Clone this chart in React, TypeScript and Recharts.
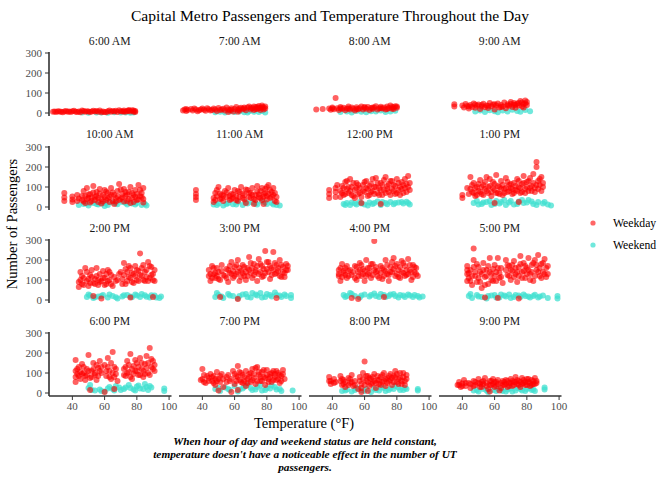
import React from "react";
import { ScatterChart, Scatter, XAxis, YAxis } from "recharts";

const hours = [
  "6:00 AM", "7:00 AM", "8:00 AM", "9:00 AM",
  "10:00 AM", "11:00 AM", "12:00 PM", "1:00 PM",
  "2:00 PM", "3:00 PM", "4:00 PM", "5:00 PM",
  "6:00 PM", "7:00 PM", "8:00 PM", "9:00 PM",
];

const xTicks = [40, 60, 80, 100];
const yTicks = [0, 100, 200, 300];

// [temperature °F, passengers]
const wd6am = [[28,6],[29,8],[30,5],[31,9],[32,7],[33,6],[34,4],[35,8],[36,10],[37,6],[38,7],[39,5],[40,9],[41,11],[42,6],[43,5],[44,7],[45,4],[46,12],[47,10],[48,6],[49,9],[50,8],[51,5],[52,7],[53,11],[54,7],[55,10],[56,6],[57,12],[58,4],[59,8],[60,5],[61,4],[62,9],[63,13],[64,6],[65,10],[66,8],[67,11],[68,5],[69,14],[70,9],[71,7],[72,12],[72,8],[73,6],[74,10],[75,15],[75,11],[76,8],[77,14],[78,6],[78,12],[79,10],[79,5]];
const we6am = [[46,2],[50,1],[55,3],[58,2],[62,1],[66,4],[70,2],[73,3],[76,1],[78,2]];

const wd7am = [[28,12],[29,18],[30,10],[30,20],[31,15],[33,20],[34,13],[35,22],[36,17],[37,9],[38,14],[39,18],[40,22],[41,16],[42,11],[43,24],[44,19],[45,13],[46,15],[47,23],[48,17],[49,10],[50,25],[51,15],[52,18],[53,21],[54,12],[55,28],[56,18],[56,5],[57,14],[58,24],[58,16],[59,8],[60,20],[61,30],[62,16],[62,6],[63,12],[63,22],[64,26],[65,19],[66,22],[66,28],[67,14],[68,27],[69,32],[70,18],[70,26],[71,24],[72,15],[72,32],[73,29],[73,20],[74,20],[74,30],[75,35],[75,25],[76,25],[76,15],[77,38],[77,30],[78,28],[78,18],[79,22],[79,32]];
const we7am = [[48,4],[51,6],[54,3],[57,8],[60,5],[63,7],[66,4],[68,2],[69,9],[72,6],[75,5],[77,10],[79,3]];

const wd8am = [[30,18],[34,20],[38,22],[39,16],[40,28],[40,22],[41,19],[42,75],[43,24],[44,15],[45,30],[45,24],[46,20],[47,26],[48,14],[49,22],[50,32],[50,22],[51,18],[52,27],[53,21],[54,12],[55,29],[55,20],[56,19],[57,24],[58,33],[59,17],[60,26],[60,30],[61,21],[62,30],[63,15],[64,25],[65,20],[65,28],[66,28],[67,34],[68,18],[69,24],[70,31],[70,24],[71,22],[72,27],[73,17],[74,32],[74,20],[75,25],[76,37],[77,21],[77,30],[78,29],[78,20],[79,34],[80,26],[80,32]];
const we8am = [[45,5],[49,8],[52,3],[55,10],[58,6],[61,4],[64,9],[67,7],[70,12],[73,5],[76,8],[79,11]];

const wd9am = [[35,32],[35,44],[40,38],[41,28],[42,45],[43,35],[44,22],[44,32],[45,40],[46,30],[47,48],[48,26],[48,42],[49,36],[50,42],[51,20],[52,33],[52,40],[53,46],[54,29],[55,38],[56,25],[56,36],[57,50],[58,34],[59,42],[60,18],[60,44],[61,37],[62,47],[63,28],[64,40],[64,30],[65,33],[66,52],[67,24],[68,44],[68,38],[69,36],[70,55],[70,45],[71,30],[72,41],[72,50],[73,26],[73,40],[74,48],[75,38],[75,50],[76,60],[77,33],[77,52],[78,45],[78,28],[79,62],[79,48],[80,40],[80,55]];
const we9am = [[48,8],[51,12],[54,5],[57,14],[60,9],[62,4],[65,13],[68,7],[71,16],[74,10],[76,6],[79,15],[82,9]];

const wd10am = [[35,30],[35,48],[35,70],[40,25],[40,38],[40,52],[43,30],[43,60],[44,42],[46,35],[46,55],[47,80],[47,28],[48,55],[48,20],[49,95],[49,40],[50,45],[50,62],[51,65],[51,22],[52,30],[52,48],[53,105],[53,72],[54,50],[54,35],[55,75],[55,55],[56,25],[56,45],[57,90],[57,68],[58,40],[58,18],[59,60],[59,28],[60,85],[60,50],[61,35],[61,78],[62,70],[62,42],[63,50],[63,25],[64,95],[64,60],[65,30],[65,72],[66,60],[66,15],[67,45],[67,28],[68,80],[68,52],[69,115],[69,35],[70,40],[70,88],[71,65],[71,48],[72,90],[72,28],[73,55],[73,75],[74,30],[74,62],[75,75],[75,40],[76,100],[76,20],[77,45],[77,70],[78,60],[78,25],[79,85],[79,50],[80,35],[80,65],[81,110],[81,38],[82,55],[82,85],[83,70],[83,50],[84,40],[84,95],[84,22]];
const we10am = [[44,10],[47,15],[49,18],[50,8],[53,20],[55,15],[56,12],[59,18],[60,5],[61,20],[62,10],[65,22],[67,18],[68,14],[71,25],[73,20],[74,12],[77,18],[79,12],[80,20],[83,10],[85,15],[86,8]];

const wd11am = [[36,35],[36,50],[36,65],[36,85],[47,45],[47,25],[48,70],[48,35],[49,55],[49,85],[50,100],[51,40],[51,68],[52,60],[52,42],[53,30],[53,58],[54,80],[55,50],[55,72],[56,95],[57,35],[57,55],[58,65],[58,40],[59,45],[59,62],[60,85],[61,55],[61,35],[62,30],[62,80],[63,75],[63,50],[64,100],[65,45],[65,68],[66,60],[66,38],[67,20],[67,88],[68,85],[69,50],[69,70],[70,70],[70,45],[71,95],[71,60],[72,40],[72,15],[73,60],[73,35],[74,105],[74,78],[75,50],[75,62],[76,80],[76,45],[77,35],[77,95],[78,65],[78,15],[78,52],[79,90],[79,70],[80,55],[80,38],[80,100],[81,110],[81,65],[82,45],[82,85],[83,75],[83,50],[84,60],[84,95],[85,30],[85,70],[86,50],[86,25]];
const we11am = [[47,12],[49,10],[50,18],[53,8],[55,15],[56,20],[59,14],[61,12],[62,25],[65,10],[67,25],[68,18],[71,22],[73,18],[74,12],[77,28],[79,22],[80,15],[83,20],[84,12],[86,10],[88,8]];

const wd12pm = [[38,45],[38,65],[38,85],[42,50],[42,75],[42,95],[43,110],[45,80],[45,50],[46,105],[46,70],[47,60],[47,95],[48,125],[48,65],[49,90],[49,130],[50,70],[50,100],[51,140],[51,80],[52,100],[52,60],[53,55],[53,120],[54,85],[54,45],[55,120],[55,95],[56,65],[56,110],[57,95],[57,70],[58,50],[58,20],[59,110],[59,80],[60,75],[60,125],[61,130],[61,95],[62,90],[62,55],[63,60],[63,105],[64,115],[64,75],[65,80],[65,140],[66,100],[66,65],[67,145],[67,100],[68,70],[68,120],[69,95],[69,60],[70,120],[70,85],[70,15],[71,60],[71,110],[72,85],[72,135],[73,150],[73,70],[74,105],[74,90],[75,75],[75,115],[76,130],[76,60],[77,90],[77,130],[78,110],[78,80],[79,65],[79,105],[80,140],[80,70],[81,85],[81,120],[82,100],[82,60],[83,125],[83,90],[84,70],[84,110],[85,95],[85,140],[86,115],[86,75],[87,155],[87,100],[88,85],[88,120]];
const we12pm = [[47,15],[48,10],[49,20],[51,10],[52,22],[54,18],[55,12],[57,25],[58,18],[60,12],[62,8],[63,22],[65,15],[66,20],[68,28],[70,10],[71,25],[73,20],[74,14],[76,25],[78,14],[79,20],[81,22],[83,25],[84,18],[86,26],[87,20],[88,12]];

const wd1pm = [[40,45],[40,60],[43,95],[44,65],[45,150],[45,90],[46,75],[46,110],[47,120],[47,70],[48,55],[48,95],[49,100],[49,60],[50,80],[50,115],[51,135],[51,75],[52,65],[52,100],[53,110],[53,60],[54,90],[54,125],[55,150],[55,80],[56,70],[56,100],[57,105],[57,140],[58,55],[58,75],[59,125],[59,95],[60,85],[60,115],[60,20],[61,160],[61,70],[62,70],[62,105],[63,100],[63,65],[64,130],[64,90],[65,60],[65,110],[66,90],[66,70],[67,145],[67,95],[68,75],[68,125],[69,110],[69,80],[70,95],[70,115],[71,65],[71,90],[72,120],[72,70],[73,85],[73,105],[74,140],[74,80],[75,100],[75,130],[75,25],[76,70],[76,95],[77,115],[77,75],[78,155],[78,120],[79,90],[79,70],[80,125],[80,100],[81,80],[81,130],[82,145],[82,95],[83,105],[83,80],[84,165],[84,120],[85,95],[85,75],[86,200],[86,225],[86,110],[87,130],[87,90],[88,110],[88,140],[89,150],[89,80],[90,100],[90,120]];
const we1pm = [[47,20],[49,30],[50,12],[52,15],[53,22],[55,25],[57,30],[58,10],[60,15],[61,30],[63,18],[64,25],[66,35],[67,10],[69,22],[70,30],[72,12],[74,15],[75,28],[77,35],[78,20],[80,22],[81,35],[83,28],[84,15],[86,10],[87,25],[90,18],[91,25],[93,12],[95,8]];

const wd2pm = [[44,65],[44,90],[45,140],[45,100],[46,80],[46,120],[47,110],[47,75],[48,160],[49,95],[49,140],[50,70],[50,105],[51,125],[51,85],[52,150],[52,115],[53,85],[53,20],[54,105],[54,80],[55,160],[55,120],[56,75],[56,100],[57,130],[57,90],[58,95],[58,8],[59,145],[59,110],[60,110],[60,75],[61,80],[61,130],[62,150],[62,95],[63,100],[63,140],[64,125],[64,80],[65,70],[66,115],[67,95],[68,100],[69,130],[70,140],[71,105],[71,80],[72,185],[72,125],[73,80],[73,155],[74,140],[74,95],[75,115],[75,170],[76,160],[76,110],[76,12],[77,90],[77,135],[78,130],[78,85],[79,170],[79,120],[80,100],[80,150],[81,145],[81,95],[82,233],[82,125],[83,120],[83,160],[84,175],[84,100],[85,95],[85,140],[86,150],[86,115],[87,190],[87,95],[88,110],[88,170],[89,165],[89,125],[90,130],[90,100],[90,15],[91,95],[91,150]];
const we2pm = [[49,15],[50,28],[51,22],[53,10],[54,14],[56,18],[58,20],[59,25],[62,12],[63,28],[65,20],[67,14],[68,8],[71,18],[72,24],[74,25],[76,18],[77,14],[79,28],[80,22],[82,15],[83,30],[85,24],[86,16],[88,12],[89,24],[91,22],[92,12],[94,10],[95,18]];

const wd3pm = [[44,120],[44,150],[45,95],[45,130],[46,170],[46,110],[47,130],[47,160],[48,110],[48,135],[49,160],[49,120],[50,140],[50,105],[51,100],[51,15],[52,175],[52,145],[53,125],[54,120],[55,155],[55,110],[56,90],[56,150],[57,135],[57,170],[58,190],[58,130],[59,110],[59,145],[60,165],[60,120],[61,130],[61,175],[62,200],[62,140],[62,5],[63,95],[63,160],[64,145],[64,115],[65,175],[65,135],[66,120],[66,165],[67,100],[67,140],[68,160],[68,120],[69,215],[69,150],[70,135],[70,185],[71,110],[71,160],[72,180],[72,125],[73,150],[73,140],[74,95],[74,170],[75,205],[75,130],[76,140],[76,180],[77,170],[77,115],[78,120],[78,155],[79,245],[79,135],[80,155],[80,190],[81,190],[81,140],[82,105],[82,170],[83,160],[83,125],[84,240],[84,150],[85,130],[85,185],[86,175],[86,135],[86,10],[87,145],[87,160],[88,200],[88,120],[89,115],[89,175],[90,165],[90,140],[91,135],[91,115],[92,180],[92,150],[93,150],[93,170]];
const we3pm = [[48,15],[49,35],[50,25],[52,18],[53,10],[56,30],[57,22],[59,20],[62,8],[63,20],[65,28],[67,30],[68,15],[70,12],[71,35],[73,28],[74,22],[76,35],[77,12],[79,15],[80,30],[82,25],[83,18],[85,38],[86,25],[88,22],[89,15],[91,28],[92,20],[95,10],[95,25]];

const wd4pm = [[44,120],[44,150],[44,130],[45,95],[45,160],[46,180],[46,115],[47,135],[47,145],[48,160],[48,125],[49,110],[49,170],[50,145],[50,120],[51,150],[52,125],[52,10],[53,140],[54,170],[54,110],[55,100],[55,165],[56,140],[56,120],[56,5],[57,185],[57,150],[58,120],[58,175],[59,155],[59,130],[60,95],[60,145],[61,200],[61,120],[62,130],[62,160],[63,160],[63,135],[64,110],[64,180],[65,180],[65,125],[66,295],[66,150],[67,140],[67,165],[68,120],[68,145],[69,110],[70,170],[70,135],[71,105],[71,160],[72,150],[72,120],[72,15],[73,200],[73,145],[74,130],[74,175],[75,95],[75,125],[76,165],[76,140],[77,140],[77,190],[78,210],[78,155],[79,120],[79,170],[80,180],[80,130],[81,150],[81,115],[82,110],[82,165],[83,195],[83,140],[84,135],[84,185],[85,170],[85,120],[86,125],[86,150],[87,205],[87,130],[88,150],[88,175],[89,100],[89,140],[90,175],[90,115],[91,140],[91,165],[92,160],[92,130],[93,120]];
const we4pm = [[47,25],[48,15],[49,20],[51,35],[52,30],[54,20],[57,12],[58,22],[60,28],[63,18],[64,25],[66,32],[67,20],[69,15],[70,30],[72,25],[73,15],[75,20],[76,28],[78,30],[79,20],[81,12],[82,25],[84,22],[85,15],[87,28],[88,22],[90,15],[91,25],[93,20],[94,12],[96,18]];

const wd5pm = [[43,95],[43,130],[43,170],[43,150],[44,110],[44,135],[45,150],[45,95],[46,75],[46,120],[47,200],[47,258],[47,165],[48,120],[48,140],[49,90],[49,180],[50,165],[50,110],[51,140],[51,90],[52,60],[52,130],[53,185],[53,150],[54,115],[54,75],[54,12],[55,150],[55,120],[56,80],[56,170],[57,210],[57,140],[58,130],[58,100],[59,95],[59,155],[60,175],[60,120],[61,140],[61,95],[62,210],[62,160],[62,10],[63,110],[63,135],[64,160],[64,115],[65,85],[67,200],[67,150],[68,125],[68,175],[69,170],[69,120],[70,100],[70,150],[71,145],[71,175],[72,195],[72,115],[73,130],[73,160],[74,90],[74,140],[75,165],[75,120],[75,8],[76,220],[76,180],[77,140],[77,110],[78,185],[78,145],[79,110],[79,170],[80,160],[80,130],[81,210],[81,150],[82,130],[82,100],[83,175],[83,140],[84,95],[84,185],[85,200],[85,120],[86,150],[86,175],[87,225],[87,140],[88,120],[88,160],[89,180],[89,110],[90,140],[90,185],[91,205],[91,130],[92,160],[92,115],[93,130],[93,170]];
const we5pm = [[44,20],[45,30],[46,10],[49,25],[50,18],[52,15],[55,8],[56,20],[58,22],[60,25],[61,12],[63,12],[64,28],[66,22],[67,18],[69,28],[70,10],[72,15],[73,25],[75,22],[76,15],[78,28],[79,20],[81,18],[82,12],[84,20],[85,26],[87,12],[88,18],[90,22],[93,10],[99,20],[99,8]];

const wd6pm = [[42,55],[42,80],[42,110],[42,165],[43,95],[43,120],[44,130],[44,85],[45,70],[45,105],[46,145],[46,95],[47,100],[47,130],[48,85],[48,65],[49,120],[49,90],[50,190],[50,110],[51,75],[51,15],[52,110],[52,80],[53,150],[53,120],[54,90],[54,100],[55,65],[55,140],[56,125],[56,85],[57,160],[57,110],[58,100],[58,130],[60,140],[60,5],[61,85],[61,110],[62,175],[62,130],[63,110],[63,80],[64,70],[64,150],[65,205],[65,100],[66,130],[66,80],[66,20],[67,95],[67,120],[68,60],[72,120],[72,90],[73,85],[73,130],[74,160],[74,100],[75,105],[75,140],[76,195],[76,80],[77,70],[77,120],[78,135],[78,95],[79,110],[79,165],[80,150],[80,110],[81,90],[81,130],[82,175],[82,90],[83,120],[83,150],[84,80],[84,110],[85,145],[85,95],[86,185],[86,125],[87,100],[87,150],[88,225],[88,90],[89,130],[89,170],[90,160],[90,120],[91,110],[91,140]];
const we6pm = [[50,25],[51,40],[52,15],[54,12],[57,18],[58,10],[60,8],[62,22],[63,30],[65,20],[66,12],[67,35],[69,28],[70,15],[72,20],[73,28],[75,40],[76,25],[78,18],[79,12],[80,32],[81,38],[82,22],[84,20],[85,45],[86,30],[87,15],[88,35],[89,28],[97,10],[97,22]];

const wd7pm = [[39,65],[40,120],[40,70],[41,90],[41,55],[42,50],[43,85],[44,75],[44,60],[45,95],[46,60],[46,80],[47,85],[47,50],[48,40],[48,70],[49,105],[49,60],[50,70],[50,12],[51,55],[51,85],[52,95],[53,30],[53,70],[55,80],[55,55],[56,90],[57,60],[58,5],[58,70],[59,110],[60,45],[60,95],[61,85],[61,60],[62,135],[62,80],[62,15],[63,65],[63,105],[64,100],[64,55],[65,50],[65,90],[66,80],[66,60],[67,35],[67,110],[68,70],[68,50],[69,95],[69,80],[70,55],[70,100],[71,120],[71,65],[72,75],[72,95],[73,45],[73,125],[74,130],[74,60],[75,90],[75,105],[76,60],[76,80],[77,105],[77,60],[78,80],[78,115],[79,40],[79,75],[80,115],[80,90],[81,70],[81,55],[82,95],[82,80],[83,55],[83,100],[84,110],[84,65],[85,80],[85,95],[86,65],[86,110],[87,100],[87,70],[88,50],[88,90],[89,85],[89,60],[90,115],[90,95],[91,70]];
const we7pm = [[48,20],[50,25],[51,10],[54,28],[56,20],[57,15],[60,35],[62,8],[63,18],[65,22],[66,30],[68,40],[70,25],[71,15],[73,18],[74,30],[76,38],[77,12],[79,15],[80,25],[82,22],[83,38],[85,30],[86,18],[88,20],[89,10],[96,12]];

const wd8pm = [[38,60],[38,80],[39,45],[39,60],[41,70],[41,50],[42,55],[45,85],[45,60],[46,40],[46,70],[47,65],[47,45],[48,30],[48,55],[50,75],[50,40],[51,50],[51,70],[52,90],[52,55],[53,35],[54,60],[54,40],[56,20],[57,80],[57,60],[58,45],[58,5],[58,25],[59,100],[59,70],[60,158],[60,40],[61,60],[61,85],[62,85],[62,10],[62,55],[63,35],[63,75],[64,70],[64,45],[65,50],[65,80],[66,95],[66,60],[67,25],[67,50],[68,65],[68,85],[69,45],[69,65],[70,80],[70,40],[71,55],[71,90],[72,100],[72,60],[73,35],[73,70],[74,75],[74,50],[75,60],[75,85],[76,95],[76,65],[77,40],[77,75],[78,85],[78,55],[79,110],[79,80],[80,55],[80,95],[81,70],[81,45],[82,100],[82,75],[83,45],[83,60],[84,80],[84,100],[85,60],[85,40],[86,90],[86,70]];
const we8pm = [[46,10],[48,12],[49,18],[52,8],[54,15],[55,25],[58,12],[60,10],[61,20],[64,5],[66,22],[67,15],[69,12],[70,28],[72,25],[73,10],[75,15],[76,22],[78,20],[79,35],[81,28],[82,15],[84,15],[85,25],[86,20],[93,12],[93,20]];

const wd9pm = [[37,40],[38,55],[38,40],[39,30],[40,48],[40,35],[41,65],[42,35],[42,50],[44,50],[45,25],[45,45],[47,60],[47,35],[48,40],[48,55],[50,70],[50,50],[51,30],[51,45],[52,55],[52,30],[53,45],[53,60],[54,75],[55,35],[55,50],[56,20],[57,60],[57,8],[57,40],[58,40],[58,60],[59,70],[59,45],[60,30],[60,55],[61,55],[61,35],[62,45],[62,65],[63,12],[64,25],[64,50],[65,60],[65,40],[66,40],[66,55],[67,65],[67,45],[68,30],[68,60],[69,50],[69,35],[70,70],[70,50],[71,35],[71,60],[72,55],[72,40],[73,80],[73,55],[74,45],[74,65],[75,60],[75,40],[76,30],[76,55],[77,75],[77,45],[78,50],[78,65],[79,40],[79,55],[80,70],[80,40],[81,55],[81,70],[82,35],[82,50],[83,65],[83,40],[84,45],[84,60],[85,75],[85,45],[86,50],[86,60]];
const we9pm = [[47,12],[49,15],[50,8],[53,20],[55,12],[56,5],[59,15],[61,10],[62,22],[64,15],[65,10],[67,8],[68,18],[70,22],[71,8],[73,12],[74,25],[76,20],[77,12],[79,10],[80,20],[82,25],[83,15],[84,18],[85,10],[91,18],[91,28]];

const weekdayByHour = [wd6am, wd7am, wd8am, wd9am, wd10am, wd11am, wd12pm, wd1pm, wd2pm, wd3pm, wd4pm, wd5pm, wd6pm, wd7pm, wd8pm, wd9pm];
const weekendByHour = [we6am, we7am, we8am, we9am, we10am, we11am, we12pm, we1pm, we2pm, we3pm, we4pm, we5pm, we6pm, we7pm, we8pm, we9pm];

const RED = "#FF0000";
const TURQ = "#40E0D0";
const FONT = "'Liberation Serif', 'Times New Roman', serif";

const COL_X = [48.5, 178.5, 308.5, 438.5];
const PANEL_TOP = [52.3, 145.7, 239, 332.3];
const PANEL_W = 122.5;
const PANEL_H = 64;
const Y_AXIS_W = 40;
const X_AXIS_H = 24;
const PAD_T = 8;
const PAD_R = 10;
const PAD_B = 8;

const toPoints = (arr: number[][]) => arr.map(([t, n]) => ({ t, n }));

const dot = (color: string, op: number) => (p: any) =>
  <circle cx={p.cx} cy={p.cy} r={3} fill={color} fillOpacity={op} />;

const tickStyle = { fill: "#4d4d4d", fontSize: 11, fontFamily: FONT };

const Panel = ({ idx }: { idx: number }) => {
  const col = idx % 4;
  const row = Math.floor(idx / 4);
  const showY = col === 0;
  const showX = row === 3;
  const yw = showY ? Y_AXIS_W : 0;
  const xh = showX ? X_AXIS_H : 0;
  const pb = showX ? 0 : PAD_B;
  return (
    <div style={{ position: "absolute", left: COL_X[col] - yw, top: PANEL_TOP[row] - PAD_T }}>
      <ScatterChart
        width={PANEL_W + yw + PAD_R}
        height={PANEL_H + xh + PAD_T + pb}
        margin={{ top: PAD_T, right: PAD_R, bottom: pb, left: 0 }}
      >
        <XAxis
          type="number"
          dataKey="t"
          domain={[25.5, 101.5]}
          ticks={xTicks}
          interval={0}
          allowDataOverflow
          hide={!showX}
          height={X_AXIS_H}
          axisLine={{ stroke: "#333", strokeWidth: 1.6 }}
          tickLine={{ stroke: "#333" }}
          tickSize={4}
          tickMargin={2}
          tick={tickStyle}
        />
        <YAxis
          type="number"
          dataKey="n"
          domain={[-15, 305]}
          ticks={yTicks}
          interval={0}
          allowDataOverflow
          hide={!showY}
          width={Y_AXIS_W}
          axisLine={{ stroke: "#333", strokeWidth: 1.6 }}
          tickLine={{ stroke: "#333" }}
          tickSize={4}
          tickMargin={3}
          tick={tickStyle}
        />
        <Scatter data={toPoints(weekendByHour[idx])} shape={dot(TURQ, 0.75)} isAnimationActive={false} />
        <Scatter data={toPoints(weekdayByHour[idx])} shape={dot(RED, 0.62)} isAnimationActive={false} />
      </ScatterChart>
    </div>
  );
};

const App = () => {
  return (
    <div style={{ position: "absolute", left: 0, top: 0, width: 672, height: 480, background: "#fff", fontFamily: FONT }}>
      {hours.map((h, i) => <Panel key={h} idx={i} />)}
      <svg width={672} height={480} style={{ position: "absolute", left: 0, top: 0, pointerEvents: "none" }}>
        <g fontFamily={FONT} fill="#000">
          <text x={330} y={15} fontSize={15.6} textAnchor="middle" dominantBaseline="central">
            Capital Metro Passengers and Temperature Throughout the Day
          </text>
          {hours.map((h, i) => (
            <text
              key={h}
              x={COL_X[i % 4] + PANEL_W / 2}
              y={PANEL_TOP[Math.floor(i / 4)] - 11}
              fontSize={11.7}
              fill="#1a1a1a"
              textAnchor="middle"
              dominantBaseline="central"
            >
              {h}
            </text>
          ))}
          <text
            transform="translate(12,224) rotate(-90)"
            fontSize={14.5}
            textAnchor="middle"
            dominantBaseline="central"
          >
            Number of Passengers
          </text>
          <text x={304} y={423} fontSize={14.5} textAnchor="middle" dominantBaseline="central">
            Temperature (°F)
          </text>
          <g fontSize={11.3} fontWeight="bold" fontStyle="italic" textAnchor="middle">
            <text x={305} y={441} dominantBaseline="central">
              When hour of day and weekend status are held constant,
            </text>
            <text x={305} y={454} dominantBaseline="central">
              temperature doesn't have a noticeable effect in the number of UT
            </text>
            <text x={305} y={467} dominantBaseline="central">
              passengers.
            </text>
          </g>
          <circle cx={593} cy={223} r={2.6} fill={RED} fillOpacity={0.6} />
          <text x={613} y={223} fontSize={11.7} dominantBaseline="central">Weekday</text>
          <circle cx={593} cy={245} r={2.6} fill={TURQ} fillOpacity={0.75} />
          <text x={613} y={245} fontSize={11.7} dominantBaseline="central">Weekend</text>
        </g>
      </svg>
    </div>
  );
};

export default App;
